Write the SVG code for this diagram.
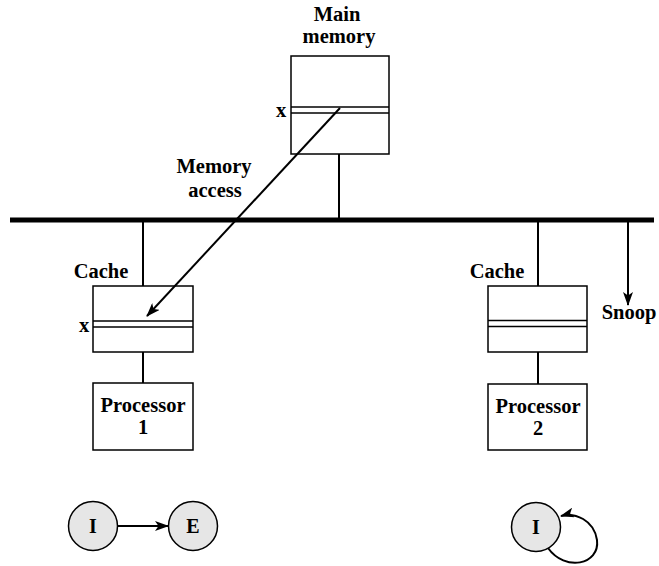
<svg xmlns="http://www.w3.org/2000/svg" width="659" height="566" viewBox="0 0 659 566">
<defs>
<style>
.t{font-family:"Liberation Serif","Times New Roman",serif;font-weight:bold;font-size:20.5px;fill:#000;text-anchor:middle}
.box{fill:#fff;stroke:#000;stroke-width:1.5}
.ln{stroke:#000;stroke-width:2;fill:none}
.st{fill:#e6e6e6;stroke:#000;stroke-width:1.5}
.sl{font-family:"Liberation Serif","Times New Roman",serif;font-weight:bold;font-size:20px;fill:#000;text-anchor:middle}
</style>
<marker id="ah" viewBox="0 0 14 10" refX="13" refY="5" markerWidth="14" markerHeight="10" markerUnits="userSpaceOnUse" orient="auto">
<path d="M0,0 L14,5 L0,10 L3.5,5 Z" fill="#000"/>
</marker>
</defs>
<rect width="659" height="566" fill="#fff"/>
<g id="main-memory">
<rect class="box" x="291" y="56" width="98" height="98"/>
<line stroke="#000" stroke-width="1.5" x1="291" y1="107" x2="389" y2="107"/>
<line stroke="#000" stroke-width="1.5" x1="291" y1="113" x2="389" y2="113"/>
<text class="t" x="337" y="21">Main</text>
<text class="t" x="339" y="43">memory</text>
<text class="t" x="281" y="117">x</text>
</g>
<g id="cache1">
<rect class="box" x="93" y="286" width="100" height="66"/>
<line stroke="#000" stroke-width="1.5" x1="93" y1="321" x2="193" y2="321"/>
<line stroke="#000" stroke-width="1.5" x1="93" y1="327" x2="193" y2="327"/>
<text class="t" x="101" y="278">Cache</text>
<text class="t" x="84" y="332">x</text>
</g>
<g id="processor1">
<rect class="box" x="93" y="383" width="100" height="67"/>
<text class="t" x="143" y="412">Processor</text>
<text class="t" x="143" y="434">1</text>
</g>
<g id="cache2">
<rect class="box" x="488" y="286" width="99" height="66"/>
<line stroke="#000" stroke-width="1.5" x1="488" y1="320.5" x2="587" y2="320.5"/>
<line stroke="#000" stroke-width="1.5" x1="488" y1="326.5" x2="587" y2="326.5"/>
<text class="t" x="497" y="278">Cache</text>
</g>
<g id="processor2">
<rect class="box" x="488" y="384" width="99" height="66"/>
<text class="t" x="538" y="413">Processor</text>
<text class="t" x="538" y="435">2</text>
</g>
<g id="state-I1">
<circle class="st" cx="93" cy="526" r="24.5"/>
<text class="sl" x="93" y="532.5">I</text>
</g>
<g id="state-E">
<circle class="st" cx="193" cy="526" r="24.5"/>
<text class="sl" x="193" y="532.5">E</text>
</g>
<g id="state-I2">
<circle class="st" cx="536" cy="527" r="24.5"/>
<text class="sl" x="536" y="533.5">I</text>
</g>
<g id="connectors">
<line x1="10" y1="220" x2="654" y2="220" stroke="#000" stroke-width="5"/>
<line class="ln" x1="339" y1="154" x2="339" y2="220"/>
<line class="ln" x1="143" y1="220" x2="143" y2="286"/>
<line class="ln" x1="143" y1="352" x2="143" y2="383"/>
<line class="ln" x1="538" y1="220" x2="538" y2="286"/>
<line class="ln" x1="538" y1="352" x2="538" y2="384"/>
<line class="ln" x1="628" y1="220" x2="628" y2="305" marker-end="url(#ah)"/>
<line class="ln" x1="340" y1="108" x2="147" y2="316" marker-end="url(#ah)"/>
<line class="ln" x1="118" y1="526" x2="168" y2="526" marker-end="url(#ah)"/>
<path class="ln" d="M548,548 C565,572 600,565 597,540 C594,520 575,512 561,516" marker-end="url(#ah)"/>
<text class="t" x="214" y="173">Memory</text>
<text class="t" x="215" y="197">access</text>
<text class="t" x="629" y="319">Snoop</text>
</g>
</svg>
